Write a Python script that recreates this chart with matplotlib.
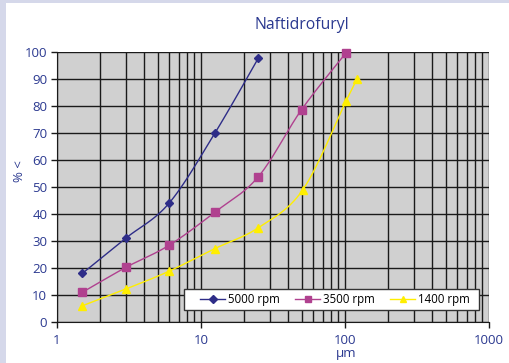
import numpy as np
import matplotlib
matplotlib.use("Agg")
import matplotlib.pyplot as plt
from matplotlib.ticker import FixedLocator, NullFormatter, FixedFormatter

# ---- data ----
size_5000 = [1.5, 3, 6, 12.5, 25]
pct_5000 = [18, 31, 44, 70, 97.7]
size_3500 = [1.5, 3, 6, 12.5, 25, 50, 102]
pct_3500 = [11, 20.2, 28.4, 40.7, 53.8, 78.7, 99.8]
size_1400 = [1.5, 3, 6, 12.5, 25, 51, 102, 121]
pct_1400 = [6, 12.2, 18.8, 27.2, 34.9, 49, 82, 89.9]
labels = ["5000 rpm", "3500 rpm", "1400 rpm"]
title = "Naftidrofuryl"
xticks = [1, 10, 100, 1000]
xtick_labels = ["1", "10", "100", "1000"]
yticks = list(range(0, 101, 10))

plt.rcParams['font.family'] = ['Open Sans', 'DejaVu Sans']
navy = '#2b3990'


def smooth(xs, ys, n=30):
    """Catmull-Rom style smoothing in (log x, y) space for line rendering."""
    u = np.log10(xs)
    y = np.asarray(ys, float)
    pts = np.column_stack([u, y])
    out = [pts[0]]
    for i in range(len(pts) - 1):
        p0 = pts[i - 1] if i > 0 else pts[i]
        p1 = pts[i]
        p2 = pts[i + 1]
        p3 = pts[i + 2] if i + 2 < len(pts) else pts[i + 1]
        c1 = p1 + (p2 - p0) / 6.0
        c2 = p2 - (p3 - p1) / 6.0
        t = np.linspace(0, 1, n)[1:, None]
        seg = ((1 - t) ** 3) * p1 + 3 * ((1 - t) ** 2) * t * c1 + 3 * (1 - t) * t ** 2 * c2 + t ** 3 * p2
        out.extend(seg)
    out = np.array(out)
    return 10 ** out[:, 0], out[:, 1]


fig = plt.figure(figsize=(5.1, 3.63), dpi=100)
fig.patch.set_facecolor('#d5d8ea')
fig.patches.append(plt.Rectangle((6 / 510, 0), 1, 1 - 3 / 363, transform=fig.transFigure,
                                 facecolor='white', edgecolor='none', zorder=-5))

ax = fig.add_axes([57 / 510, 1 - 322 / 363, (489 - 57) / 510, (322 - 52) / 363])
ax.set_zorder(2)
ax.set_facecolor('#d0d0d0')
ax.set_xscale('log')
ax.set_xlim(1, 1000)
ax.set_ylim(0, 100)

series = [
    (size_5000, pct_5000, '#2e2d88', 'D', 4.3),
    (size_3500, pct_3500, '#b0418f', 's', 5.2),
    (size_1400, pct_1400, '#ffee00', '^', 5.5),
]
handles = []
for (xs, ys, col, mk, ms), lab in zip(series, labels):
    sx, sy = smooth(xs, ys)
    ax.plot(sx, sy, color=col, lw=1.0, zorder=3, clip_on=False)
    ax.plot(xs, ys, linestyle='none', marker=mk, ms=ms, color=col, zorder=4, clip_on=False)
    h, = ax.plot([], [], color=col, lw=1.0, marker=mk, ms=ms * 0.85, label=lab)
    handles.append(h)

minor = [m * 10 ** d for d in range(3) for m in range(2, 10)]
ax.xaxis.set_major_locator(FixedLocator(xticks))
ax.xaxis.set_major_formatter(FixedFormatter(xtick_labels))
ax.xaxis.set_minor_locator(FixedLocator(minor))
ax.xaxis.set_minor_formatter(NullFormatter())
ax.set_yticks(yticks)

for v in xticks + minor:
    ax.axvline(v, color='#1a1a1a', lw=1.0, zorder=1)
for v in yticks:
    ax.axhline(v, color='#1a1a1a', lw=1.0, zorder=1)

for s in ['top', 'right']:
    ax.spines[s].set_visible(False)
ax.spines['left'].set_color('#1a1a1a')
ax.spines['bottom'].set_color('#1a1a1a')
ax.tick_params(axis='both', which='major', direction='out', length=4, width=1,
               colors='#1a1a1a', labelcolor=navy, labelsize=9.5)
ax.tick_params(axis='x', which='minor', length=0)
ax.tick_params(axis='x', which='major', pad=4.5)
ax.tick_params(axis='y', which='major', pad=3)

fig.text(302 / 510, 1 - 25 / 363, title, color=navy, fontsize=11.3, ha='center', va='center')
fig.text(20 / 510, 1 - 171 / 363, '% <', color=navy, fontsize=9.5, rotation=90, ha='center', va='center')
fig.text(346 / 510, 1 - 353 / 363, 'µm', color=navy, fontsize=9.5, ha='center', va='center')

# legend box
box = plt.Rectangle((184 / 510, 1 - 310 / 363), (479 - 184) / 510, 21 / 363,
                    transform=fig.transFigure, facecolor='white', edgecolor='#333333',
                    lw=1.0, zorder=5, clip_on=False)
ax.add_patch(box)
leg = ax.legend(handles=handles, loc='center', bbox_to_anchor=(335 / 510, 1 - 299.5 / 363),
                bbox_transform=fig.transFigure, ncol=3, fontsize=8.3, frameon=False,
                borderaxespad=0, handlelength=2.2, handletextpad=0.25,
                columnspacing=1.3, borderpad=0.2)
leg.set_zorder(6)

fig.savefig('out.png', dpi=100, facecolor=fig.get_facecolor())
